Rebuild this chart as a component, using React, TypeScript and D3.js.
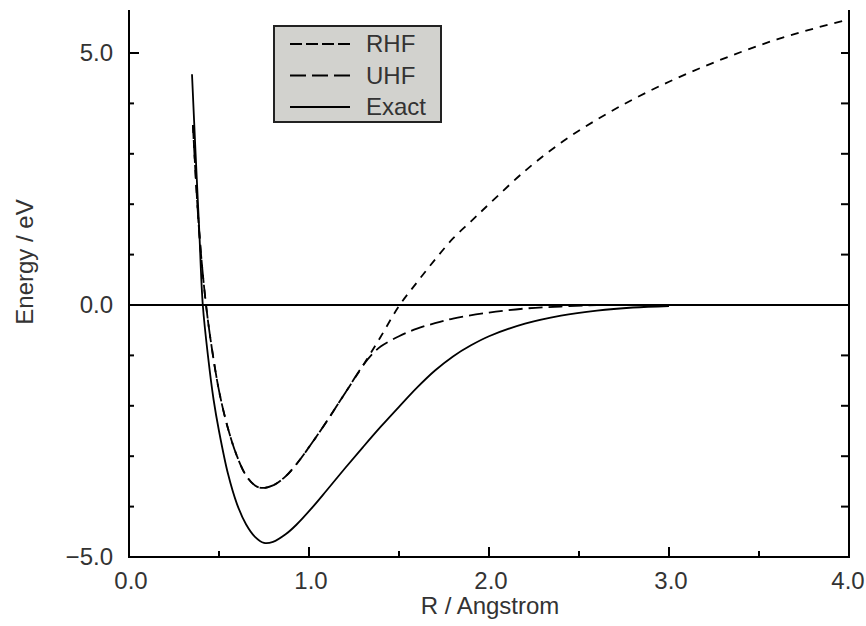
import React from 'react';
import * as d3 from 'd3';

// potential energy curves of H2
const exactR = [0.35, 0.37, 0.39, 0.41, 0.44, 0.47, 0.5, 0.55, 0.6, 0.65, 0.7, 0.75, 0.8, 0.87, 0.93, 1.02, 1.1, 1.2, 1.3, 1.4, 1.5, 1.6, 1.7, 1.8, 1.9, 2.0, 2.2, 2.4, 2.6, 2.8, 3.0];
const exactE = [4.58, 3.0, 1.5, 0.0, -1.05, -1.88, -2.5, -3.35, -3.95, -4.35, -4.6, -4.72, -4.7, -4.55, -4.36, -4.01, -3.67, -3.24, -2.82, -2.41, -2.02, -1.64, -1.3, -1.02, -0.8, -0.62, -0.37, -0.21, -0.11, -0.05, -0.02];

const rhfR = [0.355, 0.39, 0.428, 0.46, 0.5, 0.55, 0.6, 0.65, 0.7, 0.74, 0.8, 0.87, 0.93, 1.02, 1.1, 1.2, 1.3, 1.4, 1.5, 1.6, 1.7, 1.8, 1.9, 2.0, 2.2, 2.4, 2.6, 2.8, 3.0, 3.2, 3.4, 3.6, 3.8, 4.0];
const rhfE = [3.57, 1.45, 0.0, -0.85, -1.7, -2.45, -3.0, -3.38, -3.58, -3.63, -3.58, -3.4, -3.16, -2.72, -2.3, -1.75, -1.2, -0.62, -0.02, 0.45, 0.9, 1.32, 1.66, 2.0, 2.66, 3.22, 3.68, 4.08, 4.43, 4.74, 5.02, 5.27, 5.48, 5.67];

const uhfR = [0.355, 0.39, 0.428, 0.46, 0.5, 0.55, 0.6, 0.65, 0.7, 0.74, 0.8, 0.87, 0.93, 1.02, 1.1, 1.2, 1.3, 1.35, 1.4, 1.5, 1.6, 1.7, 1.8, 2.0, 2.2, 2.4, 2.6];
const uhfE = [3.57, 1.45, 0.0, -0.85, -1.7, -2.45, -3.0, -3.38, -3.58, -3.63, -3.58, -3.4, -3.16, -2.72, -2.3, -1.75, -1.2, -0.98, -0.82, -0.62, -0.47, -0.36, -0.27, -0.15, -0.07, -0.03, 0.0];

const xTicks = [0, 1, 2, 3, 4];
const xMinor = [0.5, 1.5, 2.5, 3.5];
const xTickLabels = ['0.0', '1.0', '2.0', '3.0', '4.0'];
const yTicks = [-5, 0, 5];
const yMinor = [-4, -3, -2, -1, 1, 2, 3, 4];
const yTickLabels = ['\u22125.0', '0.0', '5.0'];

const legendNames = ['RHF', 'UHF', 'Exact'];

const font = '"Liberation Sans", Arial, sans-serif';

const App = () => {
    const width = 866;
    const height = 626;
    const left = 129, right = 849, top = 10, bottom = 557;

    const x = d3.scaleLinear().domain([0, 4]).range([left, right]);
    const y = d3.scaleLinear().domain([-5, 5]).range([bottom, bottom - 504]);

    const line = d3.line<[number, number]>()
        .x(d => x(d[0]))
        .y(d => y(d[1]))
        .curve(d3.curveCatmullRom.alpha(0.5));

    const zip = (r: number[], e: number[]) => r.map((v, i) => [v, e[i]] as [number, number]);

    const series = [
        { key: 'RHF', d: line(zip(rhfR, rhfE)), dash: '8,7', legendDash: '12,4' },
        { key: 'UHF', d: line(zip(uhfR, uhfE)), dash: '14,6', legendDash: '16,6' },
        { key: 'Exact', d: line(zip(exactR, exactE)), dash: null, legendDash: null },
    ];

    return (
        <svg width={width} height={height} style={{ position: 'absolute', left: 0, top: 0, background: '#fff' }}>
            {/* zero line */}
            <line x1={left} x2={right} y1={y(0)} y2={y(0)} stroke="#000" strokeWidth={1.8} />

            {series.map(s => (
                <path key={s.key} d={s.d || ''} fill="none" stroke="#000" strokeWidth={1.8}
                    strokeDasharray={s.dash || undefined} />
            ))}

            {/* axes */}
            <line x1={left} x2={left} y1={top} y2={bottom + 1} stroke="#000" strokeWidth={2} />
            <line x1={right} x2={right} y1={top} y2={bottom + 1} stroke="#000" strokeWidth={2} />
            <line x1={left - 1} x2={right + 1} y1={bottom} y2={bottom} stroke="#000" strokeWidth={2} />

            {xTicks.map(t => (
                <line key={'xt' + t} x1={x(t)} x2={x(t)} y1={bottom} y2={bottom - 10} stroke="#000" strokeWidth={2} />
            ))}
            {xMinor.map(t => (
                <line key={'xm' + t} x1={x(t)} x2={x(t)} y1={bottom} y2={bottom - 6} stroke="#000" strokeWidth={2} />
            ))}
            {yTicks.map(t => (
                <line key={'yt' + t} x1={left} x2={left + 10} y1={y(t)} y2={y(t)} stroke="#000" strokeWidth={2} />
            ))}
            {yMinor.map(t => (
                <line key={'ym' + t} x1={left} x2={left + 5} y1={y(t)} y2={y(t)} stroke="#000" strokeWidth={2} />
            ))}
            {yTicks.concat(yMinor).map(t => (
                <line key={'yr' + t} x1={right} x2={right - 8} y1={y(t)} y2={y(t)} stroke="#000" strokeWidth={2} />
            ))}

            {xTicks.map((t, i) => (
                <text key={'xl' + t} x={i === xTicks.length - 1 ? x(t) - 1 : x(t) + 2} y={bottom + 32} textAnchor="middle"
                    fontFamily={font} fontSize={24} fill="#333">{xTickLabels[i]}</text>
            ))}
            {yTicks.map((t, i) => (
                <text key={'yl' + t} x={left - 16} y={y(t) + 8} textAnchor="end"
                    fontFamily={font} fontSize={24} fill="#333">{yTickLabels[i]}</text>
            ))}

            <text x={490} y={614} textAnchor="middle" fontFamily={font} fontSize={24} fill="#333">R / Angstrom</text>
            <text transform="translate(33,262) rotate(-90)" textAnchor="middle" fontFamily={font} fontSize={24} fill="#333">Energy / eV</text>

            {/* legend */}
            <g>
                <rect x={274} y={26} width={167} height={96} fill="#d2d2ce" stroke="#222" strokeWidth={2} />
                {series.map((s, i) => (
                    <g key={'lg' + s.key} transform={`translate(0,${44 + i * 31.5})`}>
                        <line x1={290} x2={350} y1={0} y2={0} stroke="#000" strokeWidth={2}
                            strokeDasharray={s.legendDash || undefined} />
                        <text x={366} y={8} fontFamily={font} fontSize={24} fill="#333">{legendNames[i]}</text>
                    </g>
                ))}
            </g>
        </svg>
    );
};

export default App;
